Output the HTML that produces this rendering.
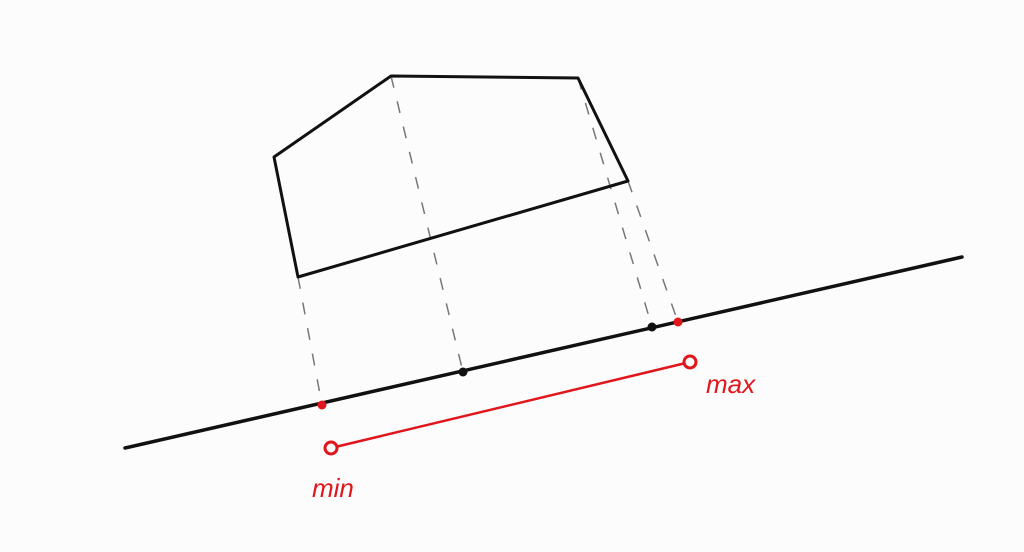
<!DOCTYPE html>
<html><head><meta charset="utf-8"><style>
html,body{margin:0;padding:0;background:#fcfcfc;}
svg{display:block;}
text{font-family:"Liberation Sans",sans-serif;}
</style></head><body>
<svg id="c" width="1024" height="552" viewBox="0 0 1024 552">
<rect width="1024" height="552" fill="#fcfcfc"/>
<g id="g"></g>
<text x="312" y="497" font-size="26" fill="#e0161c" font-style="italic">min</text>
<text x="706" y="393" font-size="26" fill="#e0161c" font-style="italic">max</text>
</svg>
<script>
const polyX = [274, 391, 578, 628, 298];
const polyY = [157, 76, 78, 181, 277];
const axisX = [125, 962];
const axisY = [448, 257];
const projX = [322, 463, 652, 678];
const projY = [405, 372, 327, 322];
const projFrom = [4, 1, 2, 3];
const projColor = ['#e0161c', '#111', '#111', '#e0161c'];
const rangeX = [331, 690];
const rangeY = [448, 362];
const NS = 'http://www.w3.org/2000/svg';
const g = document.getElementById('g');
function mk(tag, attrs){const e=document.createElementNS(NS,tag);for(const k in attrs)e.setAttribute(k,attrs[k]);g.appendChild(e);return e;}
// dashed projections
for(let i=0;i<projX.length;i++){
  const v=projFrom[i];
  const l=mk('line',{x1:polyX[v],y1:polyY[v],x2:projX[i],y2:projY[i],stroke:'#777','stroke-width':1.5,'stroke-dasharray':'12 14'});
  
  
}
// polygon
const pts=polyX.map((x,i)=>x+','+polyY[i]).join(' ');
const p=mk('polygon',{points:pts,fill:'none',stroke:'#111','stroke-width':3,'stroke-linejoin':'round'});


// axis
const a=mk('line',{x1:axisX[0],y1:axisY[0],x2:axisX[1],y2:axisY[1],stroke:'#111','stroke-width':3.5,'stroke-linecap':'round'});


// projected points
for(let i=0;i<projX.length;i++){
  const c=mk('circle',{cx:projX[i],cy:projY[i],r:4.5,fill:projColor[i]});
  
  
}
// range segment
const r=mk('line',{x1:rangeX[0],y1:rangeY[0],x2:rangeX[1],y2:rangeY[1],stroke:'#e0161c','stroke-width':2.5});


for(let i=0;i<2;i++){
  const c=mk('circle',{cx:rangeX[i],cy:rangeY[i],r:6,fill:'#fcfcfc',stroke:'#e0161c','stroke-width':3});
  
  
}
</script>
</body></html>
